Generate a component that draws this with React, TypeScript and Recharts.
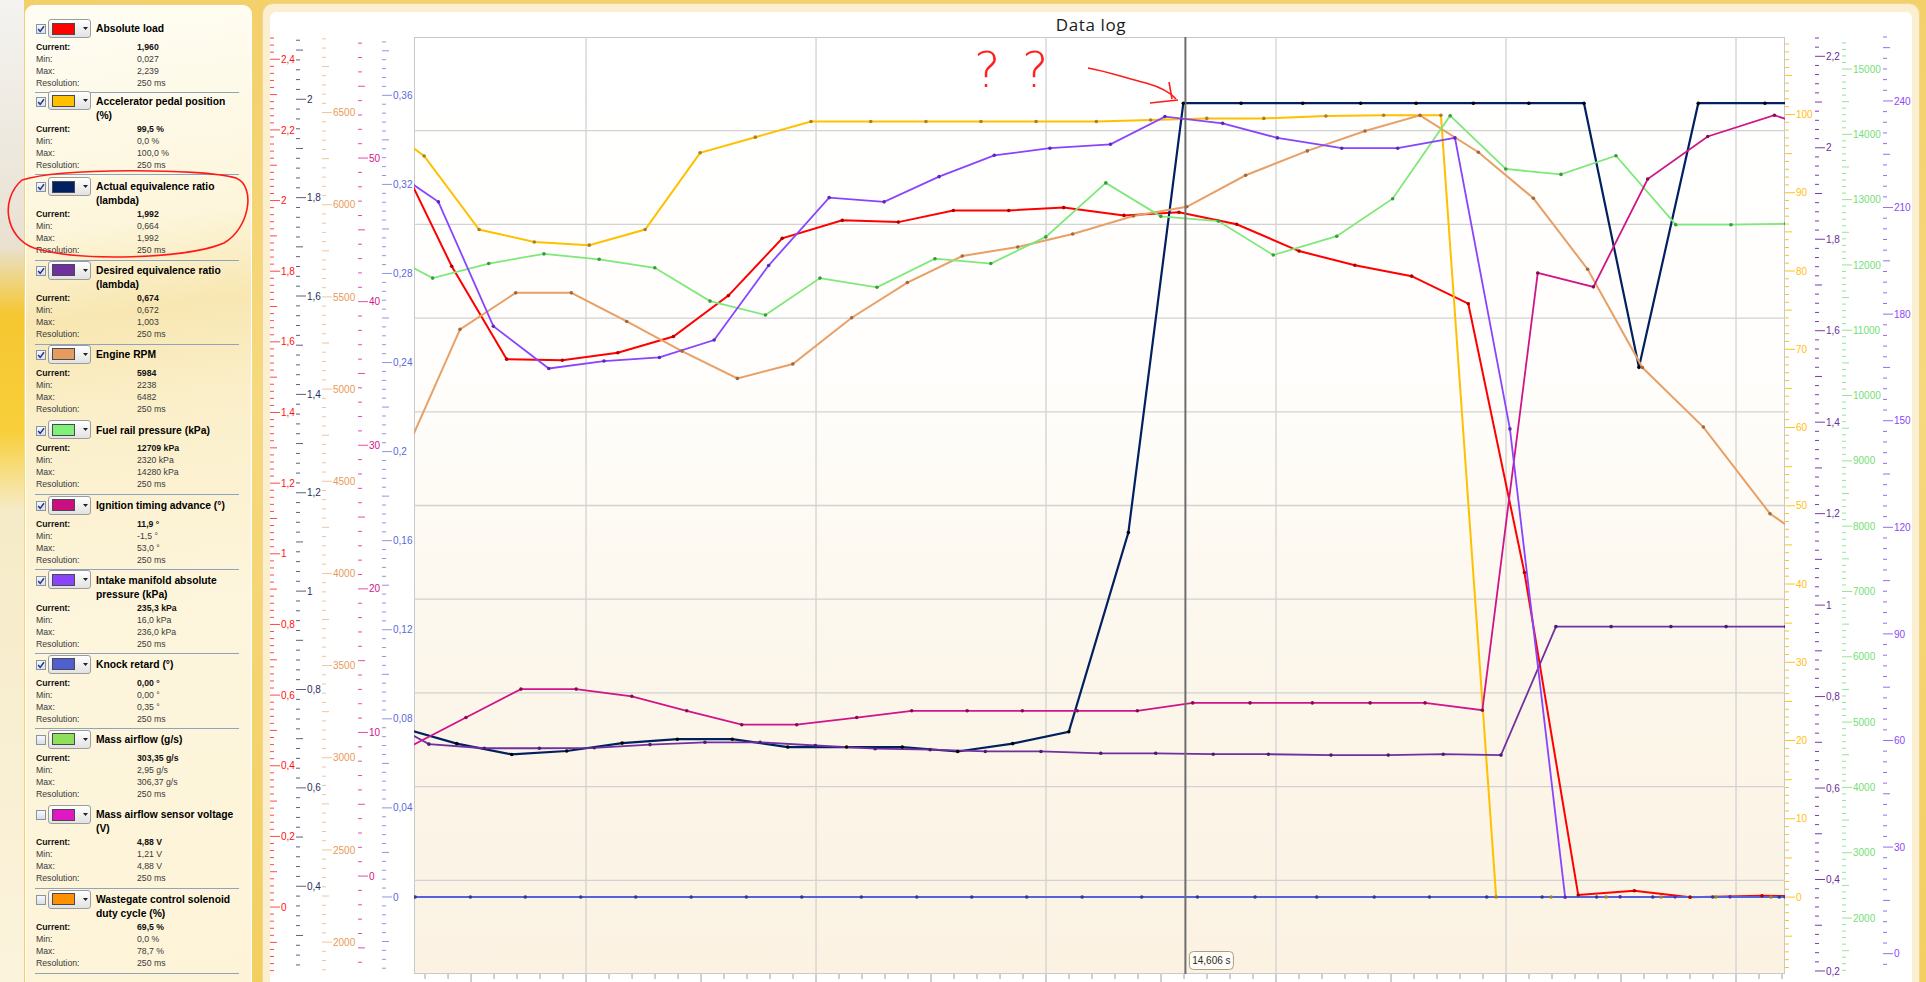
import React from "react";
import { LineChart, Line, XAxis, YAxis, ReferenceLine, CartesianGrid } from "recharts";

const FONT = '"Liberation Sans", Arial, sans-serif';

// sample times (s) and values, one pair of arrays per channel
const loadT = [11.177, 11.416, 11.655, 11.897, 12.138, 12.38, 12.619, 12.853, 13.114, 13.358, 13.597, 13.838, 14.077, 14.339, 14.578, 14.829, 15.1, 15.343, 15.59, 15.836, 16.08, 16.314, 16.558, 16.8, 17.113, 17.352];
const loadV = [2.135, 1.814, 1.551, 1.548, 1.569, 1.615, 1.731, 1.893, 1.944, 1.939, 1.972, 1.972, 1.98, 1.958, 1.967, 1.933, 1.857, 1.817, 1.786, 1.708, 0.947, 0.034, 0.046, 0.028, 0.032, 0.03];

const pedalT = [11.057, 11.296, 11.535, 11.775, 12.014, 12.257, 12.496, 12.736, 12.978, 13.238, 13.478, 13.717, 13.957, 14.219, 14.455, 14.699, 14.947, 15.217, 15.468, 15.717, 15.957, 16.196, 16.435, 16.674, 16.913, 17.152, 17.391];
const pedalV = [99.8, 94.7, 85.3, 83.7, 83.3, 85.3, 95.1, 97.1, 99.1, 99.1, 99.1, 99.1, 99.1, 99.1, 99.3, 99.5, 99.5, 99.8, 99.9, 99.9, 0, 0, 0, 0, 0, 0, 0];

const lambdaT = [11.199, 11.438, 11.677, 11.916, 12.157, 12.397, 12.636, 12.877, 13.133, 13.375, 13.616, 13.855, 14.099, 14.358, 14.597, 14.848, 15.116, 15.368, 15.609, 15.858, 16.099, 16.339, 16.578, 16.836, 17.126, 17.365];
const lambdaV = [0.722, 0.69, 0.668, 0.675, 0.691, 0.699, 0.699, 0.683, 0.683, 0.683, 0.674, 0.69, 0.714, 1.119, 1.992, 1.992, 1.992, 1.992, 1.992, 1.992, 1.992, 1.992, 1.455, 1.992, 1.992, 1.992];

const desiredT = [11.078, 11.317, 11.558, 11.797, 12.036, 12.278, 12.517, 12.757, 12.997, 13.257, 13.496, 13.736, 13.978, 14.238, 14.477, 14.727, 14.967, 15.239, 15.488, 15.727, 15.978, 16.217, 16.457, 16.717, 16.957, 17.217];
const desiredV = [0.761, 0.696, 0.687, 0.687, 0.688, 0.695, 0.7, 0.7, 0.693, 0.686, 0.684, 0.68, 0.68, 0.676, 0.676, 0.674, 0.674, 0.672, 0.672, 0.674, 0.672, 0.953, 0.953, 0.953, 0.953, 0.953];

const rpmT = [11.213, 11.452, 11.694, 11.936, 12.177, 12.417, 12.658, 12.899, 13.155, 13.397, 13.636, 13.877, 14.116, 14.38, 14.612, 14.868, 15.136, 15.387, 15.626, 15.88, 16.119, 16.355, 16.593, 16.858, 17.148, 17.387];
const rpmV = [4650, 5324, 5522, 5522, 5367, 5206, 5058, 5136, 5387, 5578, 5722, 5771, 5841, 5939, 5989, 6160, 6292, 6400, 6485, 6285, 6035, 5650, 5117, 4794, 4324, 4119];

const fuelT = [11.094, 11.333, 11.577, 11.817, 12.057, 12.299, 12.539, 12.78, 13.017, 13.265, 13.517, 13.76, 13.999, 14.26, 14.499, 14.749, 14.988, 15.264, 15.507, 15.757, 15.999, 16.239, 16.478, 16.738, 16.978, 17.217];
const fuelV = [12242, 11798, 12021, 12170, 12086, 11956, 11446, 11233, 11798, 11658, 12095, 12021, 12429, 13256, 12744, 12671, 12152, 12440, 13014, 14285, 13469, 13386, 13672, 12616, 12616, 12631];

const ignT = [11.239, 11.478, 11.717, 11.957, 12.199, 12.438, 12.677, 12.916, 13.177, 13.416, 13.657, 13.897, 14.136, 14.397, 14.638, 14.887, 15.158, 15.409, 15.648, 15.897, 16.138, 16.38, 16.616, 16.877, 17.167, 17.409];
const ignV = [9.06, 11.04, 13.02, 13.02, 12.52, 11.51, 10.54, 10.54, 11.04, 11.51, 11.51, 11.51, 11.51, 11.51, 12.06, 12.06, 12.06, 12.06, 12.06, 11.55, 42.0, 41.03, 48.54, 51.5, 52.98, 51.7];

const mapT = [11.119, 11.358, 11.597, 11.838, 12.078, 12.319, 12.557, 12.794, 13.057, 13.296, 13.535, 13.775, 14.017, 14.28, 14.517, 14.768, 15.006, 15.286, 15.529, 15.778, 16.017, 16.257, 16.496, 16.735, 16.974, 17.213, 17.452];
const mapV = [222.2, 211.6, 176.6, 164.7, 166.8, 167.8, 172.7, 193.7, 212.8, 211.6, 218.7, 224.7, 226.7, 227.8, 235.6, 233.7, 229.6, 226.7, 226.7, 229.6, 147.7, 15.9, 16.0, 16.0, 16.0, 16.0, 16.0];

const knockT = [11.017, 11.257, 11.497, 11.736, 11.977, 12.216, 12.457, 12.697, 12.938, 13.197, 13.438, 13.677, 13.916, 14.157, 14.416, 14.658, 14.909, 15.177, 15.427, 15.667, 15.916, 16.157, 16.394, 16.638, 16.899, 17.188, 17.43];
const knockV = [0, 0, 0, 0, 0, 0, 0, 0, 0, 0, 0, 0, 0, 0, 0, 0, 0, 0, 0, 0, 0, 0, 0, 0, 0, 0, 0];

const cursorT = 14.606;
const timeDomain = [11.252, 17.213];
const gridSeconds = [12, 13, 14, 15, 16, 17];
const gridBands = 10; // the plot is split into ten equal horizontal bands

const legendItems = [
  { name: ["Absolute load"], color: "#ff0000", on: true, cur: "1,960", min: "0,027", max: "2,239", y: 29.3, sep: true },
  { name: ["Accelerator pedal position", "(%)"], color: "#ffc000", on: true, cur: "99,5 %", min: "0,0 %", max: "100,0 %", y: 101.7, sep: true },
  { name: ["Actual equivalence ratio", "(lambda)"], color: "#002060", on: true, cur: "1,992", min: "0,664", max: "1,992", y: 187.3, sep: true },
  { name: ["Desired equivalence ratio", "(lambda)"], color: "#7030a0", on: true, cur: "0,674", min: "0,672", max: "1,003", y: 271, sep: true },
  { name: ["Engine RPM"], color: "#e59c5e", on: true, cur: "5984", min: "2238", max: "6482", y: 355, sep: false },
  { name: ["Fuel rail pressure (kPa)"], color: "#7ff07a", on: true, cur: "12709 kPa", min: "2320 kPa", max: "14280 kPa", y: 430.7, sep: true },
  { name: ["Ignition timing advance (°)"], color: "#cc0f80", on: true, cur: "11,9 °", min: "-1,5 °", max: "53,0 °", y: 506, sep: true },
  { name: ["Intake manifold absolute", "pressure (kPa)"], color: "#8a44ff", on: true, cur: "235,3 kPa", min: "16,0 kPa", max: "236,0 kPa", y: 580.7, sep: true },
  { name: ["Knock retard (°)"], color: "#4f5fd0", on: true, cur: "0,00 °", min: "0,00 °", max: "0,35 °", y: 665, sep: true },
  { name: ["Mass airflow (g/s)"], color: "#8ee05a", on: false, cur: "303,35 g/s", min: "2,95 g/s", max: "306,37 g/s", y: 740, sep: false },
  { name: ["Mass airflow sensor voltage", "(V)"], color: "#e018c4", on: false, cur: "4,88 V", min: "1,21 V", max: "4,88 V", y: 815.3, sep: true },
  { name: ["Wastegate control solenoid", "duty cycle (%)"], color: "#ff9000", on: false, cur: "69,5 %", min: "0,0 %", max: "78,7 %", y: 900, sep: true },
];

type Side = "left" | "right";
interface AxisDef { id: string; side: Side; width: number; domain: number[]; step: number; digits: number; tick: string; text: string }

// recharts stacks the axes by id, so the ids carry the order (inner -> outer)
const axes: AxisDef[] = [
  { id: "L1knock", side: "left", width: 32, domain: [-0.0346, 0.3862], step: 0.04, digits: 2, tick: "#8c95e6", text: "#5a68d8" },
  { id: "L2ign", side: "left", width: 24, domain: [-6.82, 58.43], step: 10, digits: 0, tick: "#e050a8", text: "#d0148a" },
  { id: "L3rpm", side: "left", width: 36, domain: [1827, 6910], step: 500, digits: 0, tick: "#f2c49a", text: "#e89a58" },
  { id: "L4lambda", side: "left", width: 26, domain: [0.2216, 2.1266], step: 0.2, digits: 1, tick: "#56627e", text: "#1f2f60" },
  { id: "L5load", side: "left", width: 26, domain: [-0.1895, 2.463], step: 0.2, digits: 1, tick: "#ff4a4a", text: "#ff1010" },
  { id: "R1pedal", side: "right", width: 30, domain: [-9.83, 109.9], step: 10, digits: 0, tick: "#ffc21a", text: "#ffbe10" },
  { id: "R2desired", side: "right", width: 27, domain: [0.1934, 2.2422], step: 0.2, digits: 1, tick: "#7a3aa8", text: "#6a2c9a" },
  { id: "R3fuel", side: "right", width: 41, domain: [1143, 15490], step: 1000, digits: 0, tick: "#90e890", text: "#74e074" },
  { id: "R4map", side: "right", width: 32, domain: [-5.72, 258.0], step: 30, digits: 0, tick: "#9a6af2", text: "#8a48f4" },
];

const series = [
  { axis: "L5load", t: loadT, v: loadV, color: "#ff0000", dot: "#b00000", w: 2 },
  { axis: "R1pedal", t: pedalT, v: pedalV, color: "#ffc000", dot: "#a88020", w: 2 },
  { axis: "L4lambda", t: lambdaT, v: lambdaV, color: "#002060", dot: "#000000", w: 2.2 },
  { axis: "R2desired", t: desiredT, v: desiredV, color: "#7030a0", dot: "#4a1d70", w: 1.8 },
  { axis: "L3rpm", t: rpmT, v: rpmV, color: "#e8a066", dot: "#a0683c", w: 2 },
  { axis: "R3fuel", t: fuelT, v: fuelV, color: "#7ee87a", dot: "#3c9a3c", w: 1.8 },
  { axis: "L2ign", t: ignT, v: ignV, color: "#d0148a", dot: "#80104f", w: 1.8 },
  { axis: "R4map", t: mapT, v: mapV, color: "#8844ff", dot: "#5a2ab0", w: 1.8 },
  { axis: "L1knock", t: knockT, v: knockV, color: "#5464d8", dot: "#2f3a8a", w: 2 },
];

function tickRange(lo: number, hi: number, step: number) {
  const out: number[] = [];
  const k0 = Math.ceil(lo / step - 1e-9);
  const k1 = Math.floor(hi / step + 1e-9);
  for (let k = k0; k <= k1; k++) out.push(Number((k * step).toFixed(6)));
  return out;
}

const fmt = (v: number, digits: number) => String(Number(v.toFixed(digits))).replace(".", ",");

function yTick(a: AxisDef) {
  return (p: any) => {
    const v = p.payload.value as number;
    const x0 = a.side === "left" ? p.x - a.width : p.x;
    const k = Math.abs(Math.round((v * 10) / a.step));
    const major = k % 10 === 0;
    const mid = !major && k % 5 === 0;
    const len = major ? 10 : mid ? 7 : 4;
    return (
      <g>
        <line x1={x0} y1={p.y} x2={x0 + len} y2={p.y} stroke={a.tick} strokeWidth={1} />
        {major && (
          <text x={x0 + 11} y={p.y + 3.6} fontSize={10} fontFamily={FONT} fill={a.text}>
            {fmt(v, a.digits)}
          </text>
        )}
      </g>
    );
  };
}

const xTick = (p: any) => {
  const k = Math.round(p.payload.value * 10);
  return <line x1={p.x} y1={p.y} x2={p.x} y2={p.y + (k % 5 === 0 ? 9 : 5)} stroke="#a0a0a0" strokeWidth={1} />;
};

const cursorLabel = (p: any) => {
  const vb = p.viewBox;
  const bottom = vb.y + vb.height;
  return (
    <g>
      <rect x={vb.x + 4} y={bottom - 22.5} width={44} height={18} rx={4} fill="#fffdf6" stroke="#a99d8c" />
      <text x={vb.x + 26} y={bottom - 10} textAnchor="middle" fontSize={10} fontFamily={FONT} fill="#2b2b2b">
        {fmt(cursorT, 3)} s
      </text>
    </g>
  );
};

function LegendEntry({ item }: { item: (typeof legendItems)[number] }) {
  const y = item.y;
  const rowY = y + (item.name.length > 1 ? 27 : 17.5);
  const rows = [
    ["Current:", item.cur],
    ["Min:", item.min],
    ["Max:", item.max],
    ["Resolution:", "250 ms"],
  ];
  return (
    <>
      <div style={{ position: "absolute", left: 36, top: y - 5, width: 8, height: 8, border: "1px solid #8793a6", background: "linear-gradient(#f6f8fb, #d9e0e9)" }}>
        {item.on && (
          <svg width={8} height={8} style={{ position: "absolute", left: 0, top: 0 }}>
            <path d="M1.2 4 L3.2 6.4 L7 1.2" stroke="#23338a" strokeWidth={1.5} fill="none" />
          </svg>
        )}
      </div>
      <div style={{ position: "absolute", left: 48, top: y - 10.3, width: 41, height: 17, border: "1px solid #9c9c9c", borderRadius: 3, background: "linear-gradient(#ffffff, #e2e2e2)" }}>
        <div style={{ position: "absolute", left: 3, top: 2.5, width: 21, height: 10, background: item.color, border: "1px solid #4a4a4a" }} />
        <svg width={6} height={4} style={{ position: "absolute", left: 34, top: 7 }}>
          <path d="M0 0 L5 0 L2.5 3 Z" fill="#222" />
        </svg>
      </div>
      {item.name.map((line, i) => (
        <div key={i} style={{ position: "absolute", left: 96, top: y - 7 + i * 14, height: 14, lineHeight: "14px", fontSize: 10.3, fontWeight: 700, color: "#000", whiteSpace: "nowrap" }}>
          {line}
        </div>
      ))}
      {rows.map((r, i) => (
        <React.Fragment key={r[0]}>
          <div style={{ position: "absolute", left: 36, top: rowY + i * 12 - 6, height: 12, lineHeight: "12px", fontSize: 8.7, fontWeight: i === 0 ? 700 : 400, color: i === 0 ? "#111" : "#3a3a3a" }}>
            {r[0]}
          </div>
          <div style={{ position: "absolute", left: 137, top: rowY + i * 12 - 6, height: 12, lineHeight: "12px", fontSize: 8.7, fontWeight: i === 0 ? 700 : 400, color: i === 0 ? "#111" : "#3a3a3a", whiteSpace: "nowrap" }}>
            {r[1]}
          </div>
        </React.Fragment>
      ))}
      {item.sep && <div style={{ position: "absolute", left: 35, top: rowY + 36 + 9.5, width: 204, height: 1, background: "#8ea4bc" }} />}
    </>
  );
}

export default function App() {
  const timeTicks = tickRange(timeDomain[0], timeDomain[1], 0.1);
  const gridAxis = axes[5];
  const [gLo, gHi] = gridAxis.domain;
  const gridRows = Array.from({ length: gridBands - 1 }, (_, i) => gLo + ((i + 1) * (gHi - gLo)) / gridBands);
  return (
    <div style={{ position: "absolute", left: 0, top: 0, width: 1926, height: 982, overflow: "hidden", fontFamily: FONT, background: "linear-gradient(180deg, #f3d06a 0%, #f6d87e 40%, #f3cf60 100%)" }}>
      {/* left strip of the desktop */}
      <div style={{ position: "absolute", left: 0, top: 0, width: 24, height: 982, background: "linear-gradient(180deg, #f4f3f0 0%, #e9e1d2 25%, #f5c731 32%, #f8cf3a 44%, #f6ebc8 52%, #fbf3dc 100%)" }} />
      {/* legend panel */}
      <div style={{ position: "absolute", left: 25, top: 5, width: 225, height: 1000, borderRadius: 9, border: "1px solid #ffffff", background: "linear-gradient(172deg, #fffdf4 0%, #fdf6dc 22%, #f8e7b2 31%, #fbefc9 40%, #fdf5dc 60%, #fdf4d8 100%)" }} />
      {legendItems.map((it, i) => (
        <LegendEntry key={i} item={it} />
      ))}
      {/* chart panel */}
      <div style={{ position: "absolute", left: 262, top: 3, width: 1658, height: 1000, borderRadius: 11, background: "#fcefcf", border: "1px solid #f0d68e", boxSizing: "border-box" }} />
      <div style={{ position: "absolute", left: 270, top: 12, width: 1642, height: 1000, borderRadius: 6, background: "#ffffff" }} />
      <div style={{ position: "absolute", left: 270, top: 13, width: 1642, textAlign: "center", fontSize: 17, letterSpacing: 0.6, fontFamily: '"Open Sans", sans-serif', color: "#1a1a1a" }}>Data log</div>
      <div style={{ position: "absolute", left: 414, top: 37, width: 1371, height: 937, boxSizing: "border-box", border: "1px solid #c9c9c9", background: "linear-gradient(180deg, #ffffff 0%, #fffefc 35%, #fcf6ea 70%, #fbf2e2 100%)" }} />
      <div style={{ position: "absolute", left: 0, top: 0 }}>
        <LineChart width={1926} height={982} margin={{ top: 37, right: 11, bottom: 0, left: 270 }}>
          <XAxis
            xAxisId="time"
            type="number"
            dataKey="t"
            domain={timeDomain}
            allowDataOverflow
            ticks={timeTicks}
            interval={0}
            height={8}
            tickSize={0}
            tickMargin={0}
            axisLine={false}
            tickLine={false}
            tick={xTick}
          />
          {axes.map((a) => (
            <YAxis
              key={a.id}
              yAxisId={a.id}
              orientation={a.side}
              type="number"
              width={a.width}
              domain={a.domain}
              allowDataOverflow
              ticks={tickRange(a.domain[0], a.domain[1], a.step / 10)}
              interval={0}
              tickSize={0}
              tickMargin={0}
              axisLine={false}
              tickLine={false}
              tick={yTick(a)}
            />
          ))}
          <CartesianGrid
            xAxisId="time"
            yAxisId={gridAxis.id}
            verticalValues={gridSeconds}
            horizontalValues={gridRows}
            stroke="#d2d2d2"
            strokeWidth={1.3}
          />
          {series.map((s) => (
            <Line
              key={s.axis}
              xAxisId="time"
              yAxisId={s.axis}
              data={s.t.map((t, i) => ({ t, v: s.v[i] }))}
              dataKey="v"
              type="linear"
              stroke={s.color}
              strokeWidth={s.w}
              dot={{ r: 1.8, fill: s.dot, stroke: s.dot, strokeWidth: 0 }}
              activeDot={false}
              isAnimationActive={false}
            />
          ))}
          <ReferenceLine xAxisId="time" yAxisId={gridAxis.id} x={cursorT} stroke="#6e6e6e" strokeWidth={2} label={cursorLabel} />
        </LineChart>
      </div>
      {/* hand drawn notes on the screenshot */}
      <svg width={1926} height={982} style={{ position: "absolute", left: 0, top: 0, pointerEvents: "none" }}>
        <path d="M22 180 C 60 168, 200 168, 236 178 C 256 186, 250 228, 224 243 C 186 259, 80 262, 34 248 C 6 238, -1 200, 22 180" fill="none" stroke="#ff1a1a" strokeWidth={1.6} />
        <text x={974} y={87} fontSize={50} fontFamily='"DejaVu Sans", sans-serif' fontWeight={200} fill="#ff2020">?</text>
        <text x={1022} y={87} fontSize={50} fontFamily='"DejaVu Sans", sans-serif' fontWeight={200} fill="#ff2020">?</text>
        <path d="M1088 68 C 1110 72, 1128 79, 1146 83 C 1160 87, 1170 92, 1176 99" fill="none" stroke="#ff1a1a" strokeWidth={1.6} />
        <path d="M1169 82 L1172 99 M1150 103 L1178 100" fill="none" stroke="#ff1a1a" strokeWidth={1.6} />
      </svg>
    </div>
  );
}
